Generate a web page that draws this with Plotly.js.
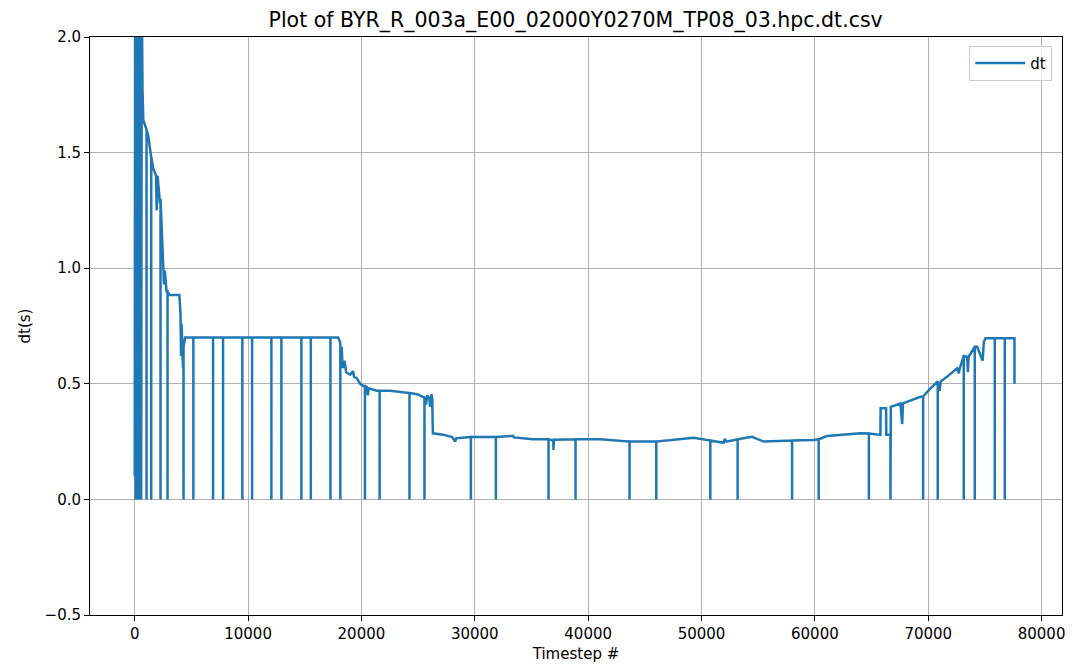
<!DOCTYPE html>
<html>
<head>
<meta charset="utf-8">
<script src="https://cdn.plot.ly/plotly-3.0.1.min.js"></script>
<style>html,body{margin:0;padding:0;background:#fff;}#chart{width:1076px;height:670px;}</style>
</head>
<body>
<div id="chart"></div>
<script>
// Baseline dt curve (timestep, dt)
const baseX = [0,40,80,120,170,220,270,320,370,420,470,520,570,620,688,759,1200,1642,1880,1942,2012,2233,2524,2586,2650,2807,3054,3936,4042,4086,4130,4200,4263,4300,4440,17943,18120,18208,18260,18330,18411,18500,18650,19003,19267,19350,19594,19885,20150,20477,20560,20650,21359,22533,23416,24298,24900,25181,25622,25700,25800,25975,26063,26180,26240,26302,27211,28000,28270,28350,29302,32242,33389,33450,34007,35154,36920,36940,36980,41081,45190,49303,51950,52050,52200,54457,55481,59894,61077,64016,65781,65800,66280,66300,66620,66700,67547,67700,67780,69312,70194,70786,71000,71100,71668,72551,72700,72780,73434,73500,73560,74316,74800,74900,75049,77608,77610];
const baseY = [0.10,2.30,0.00,2.30,0.00,2.30,0.00,2.30,0.00,2.30,0.00,2.30,0.00,2.20,1.77,1.64,1.57,1.43,1.40,1.25,1.40,1.28,1.00,0.93,0.99,0.90,0.884,0.884,0.80,0.62,0.76,0.66,0.57,0.68,0.70,0.70,0.68,0.60,0.66,0.57,0.574,0.60,0.55,0.54,0.555,0.53,0.524,0.50,0.49,0.487,0.45,0.48,0.47,0.47,0.465,0.46,0.455,0.45,0.43,0.41,0.45,0.44,0.40,0.455,0.44,0.286,0.28,0.27,0.25,0.264,0.27,0.271,0.275,0.268,0.265,0.26,0.255,0.214,0.258,0.26,0.25,0.267,0.245,0.262,0.25,0.271,0.25,0.257,0.274,0.286,0.279,0.394,0.394,0.28,0.28,0.40,0.415,0.326,0.415,0.444,0.48,0.509,0.47,0.51,0.531,0.567,0.545,0.567,0.617,0.55,0.617,0.66,0.60,0.68,0.697,0.697,0.50];
// Timesteps where dt drops to zero, and the dt level around each drop
const dropX = [1041,1456,2277,2895,4307,5172,6911,7793,9497,10353,12056,12939,14704,15534,17264,18138,20309,21606,24236,25560,29656,31862,36505,38888,43654,46011,50777,53186,57988,60335,64766,66664,69550,70838,73133,74104,75869,76752];
const dropTop = [1.60,1.48,1.30,0.90,0.66,0.70,0.70,0.70,0.70,0.70,0.70,0.70,0.70,0.70,0.70,0.66,0.49,0.47,0.46,0.44,0.27,0.27,0.26,0.26,0.25,0.25,0.255,0.26,0.255,0.26,0.285,0.28,0.445,0.51,0.62,0.66,0.697,0.697];

const pts = [];
baseX.forEach((x, i) => pts.push({x: x, y: baseY[i], k: 0}));
dropX.forEach((x, i) => {
  pts.push({x: x, y: dropTop[i], k: 1});
  pts.push({x: x, y: 0, k: 2});
  pts.push({x: x, y: dropTop[i], k: 3});
});
pts.sort((a, b) => (a.x - b.x) || (a.k - b.k));

const trace = {
  x: pts.map(p => p.x),
  y: pts.map(p => p.y),
  type: 'scatter',
  mode: 'lines',
  name: 'dt',
  line: {color: '#1f77b4', width: 2.5},
  showlegend: true
};

const fontFam = 'DejaVu Sans, sans-serif';
const layout = {
  width: 1076, height: 670,
  margin: {l: 90, r: 14, t: 37, b: 55},
  paper_bgcolor: '#fff', plot_bgcolor: '#fff',
  font: {family: fontFam, size: 15, color: '#000'},
  title: {text: 'Plot of BYR_R_003a_E00_02000Y0270M_TP08_03.hpc.dt.csv', font: {family: fontFam, size: 20.5, color: '#000'}, x: 0.535, xanchor: 'center', y: 0.97, yanchor: 'middle'},
  xaxis: {
    range: [-3945, 81800],
    tickmode: 'array', tickvals: [0,10000,20000,30000,40000,50000,60000,70000,80000],
    ticktext: ['0','10000','20000','30000','40000','50000','60000','70000','80000'],
    showgrid: true, gridcolor: '#b0b0b0', gridwidth: 1,
    zeroline: false, showline: true, linecolor: '#000', linewidth: 1, mirror: true,
    ticks: 'outside', ticklen: 5, tickcolor: '#000',
    tickfont: {family: fontFam, size: 15},
    title: {text: 'Timestep #', font: {family: fontFam, size: 15}, standoff: 6}
  },
  yaxis: {
    range: [-0.5, 2.0],
    tickmode: 'array', tickvals: [-0.5, 0, 0.5, 1.0, 1.5, 2.0],
    ticktext: ['\u22120.5','0.0','0.5','1.0','1.5','2.0'],
    showgrid: true, gridcolor: '#b0b0b0', gridwidth: 1,
    zeroline: false, showline: true, linecolor: '#000', linewidth: 1, mirror: true,
    ticks: 'outside', ticklen: 5, tickcolor: '#000',
    tickfont: {family: fontFam, size: 15},
    title: {text: 'dt(s)', font: {family: fontFam, size: 15}, standoff: 10}
  },
  legend: {
    x: 0.99, xanchor: 'right', y: 0.985, yanchor: 'top',
    bgcolor: 'rgba(255,255,255,0.8)', bordercolor: '#cccccc', borderwidth: 1,
    font: {family: fontFam, size: 15}, itemwidth: 50
  },
  showlegend: true
};

Plotly.newPlot('chart', [trace], layout, {displayModeBar: false, staticPlot: true});
</script>
</body>
</html>
